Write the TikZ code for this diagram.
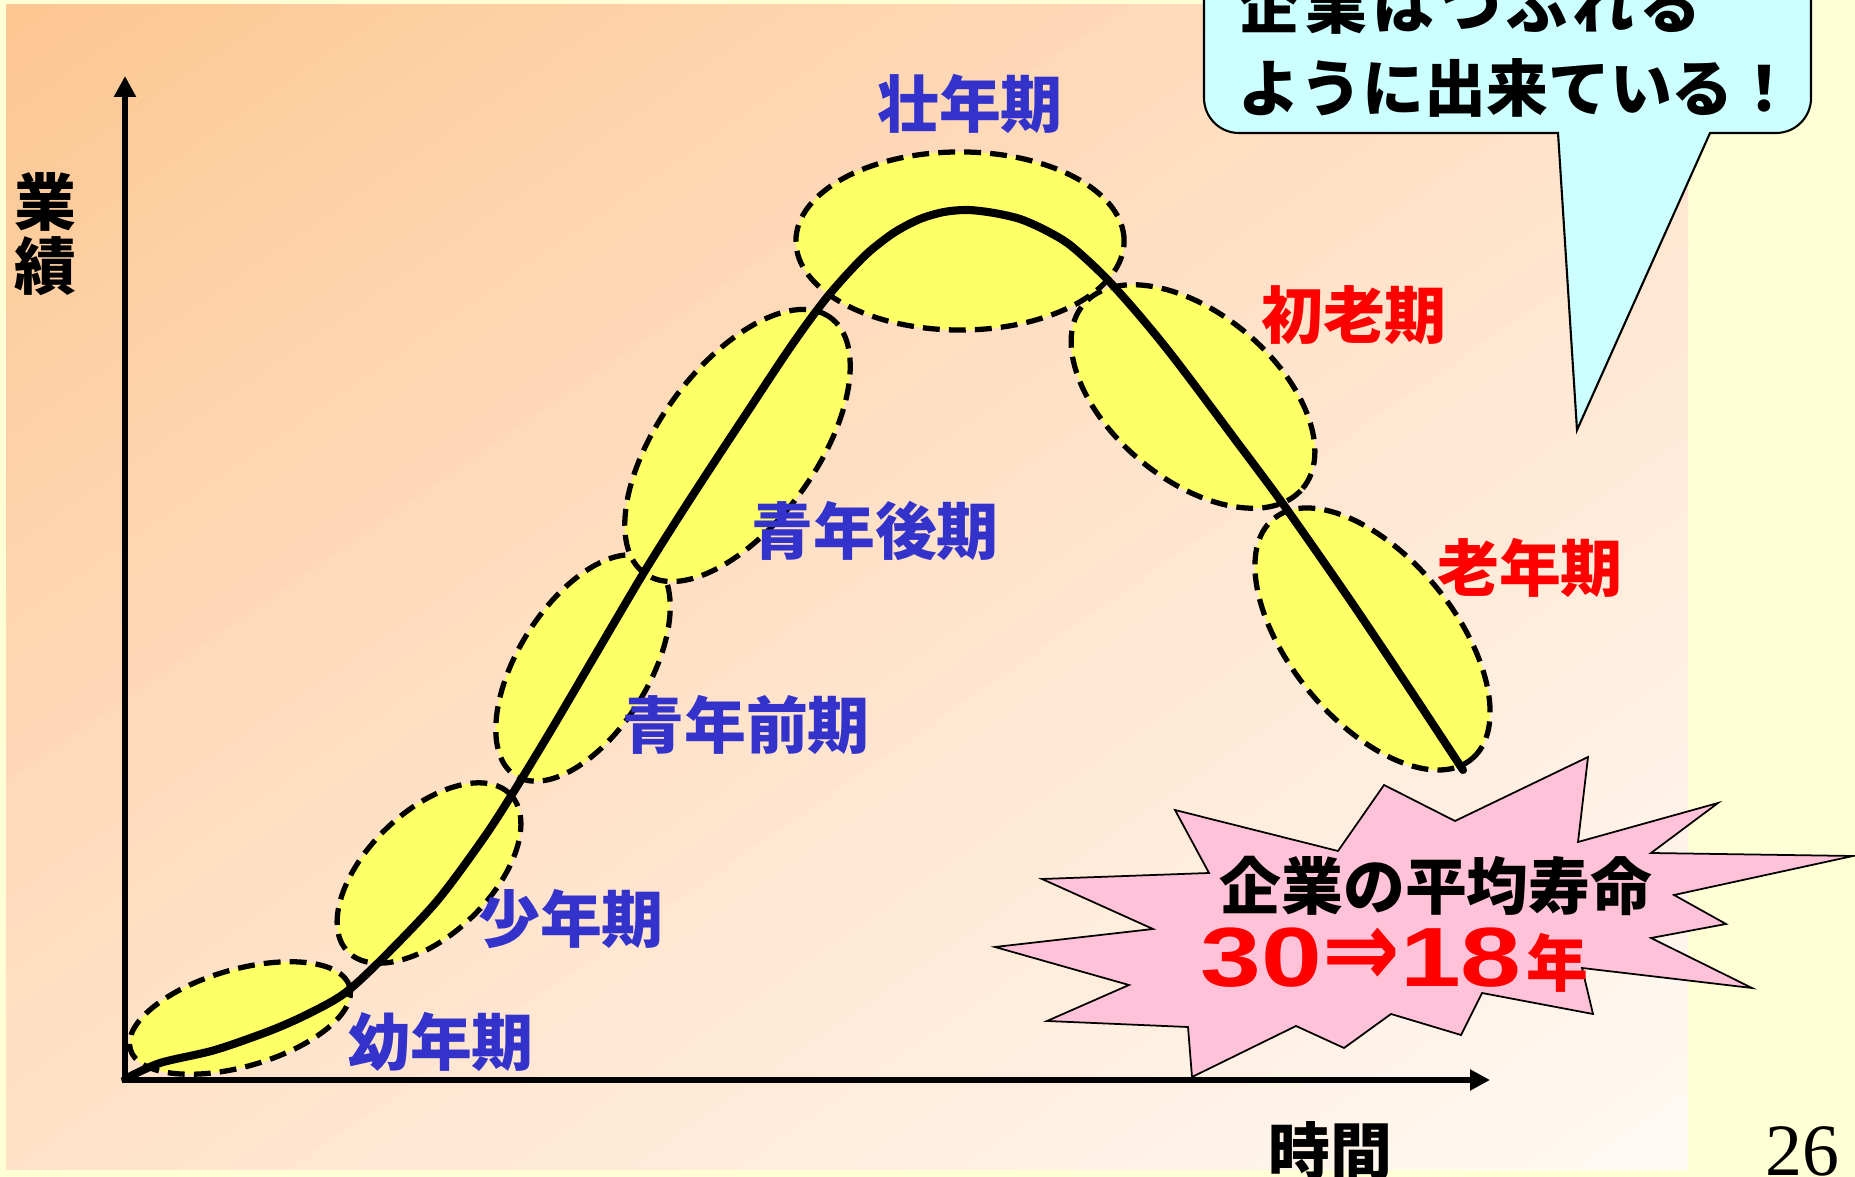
\documentclass[tikz,border=0pt]{standalone}
\usepackage{fontspec}
\usepackage{graphicx}
\usetikzlibrary{arrows.meta}
\newfontfamily\jp{Noto Sans CJK JP}
\newfontfamily\lsans{Liberation Sans}
\newfontfamily\lserif{Liberation Serif}
\newfontfamily\dejavu{DejaVu Sans}
\definecolor{pagebg}{RGB}{255,255,214}
\definecolor{bgA}{RGB}{253,199,146}
\definecolor{bgM}{RGB}{255,226,201}
\definecolor{bgB}{RGB}{255,250,245}
\definecolor{elly}{RGB}{255,255,102}
\definecolor{lblue}{RGB}{51,51,204}
\definecolor{callc}{RGB}{204,255,255}
\definecolor{burst}{RGB}{255,194,216}
\tikzset{
  ell/.style={fill=elly, draw=black, line width=1.5pt, dash pattern=on 4.8pt off 2.6pt},
  axisline/.style={line width=1.9pt, {Triangle[length=0.21cm,width=0.21cm]}-{Triangle[length=0.2cm,width=0.2cm]}},
  lifecurve/.style={line width=2.3pt, line join=round, line cap=round},
  lbl/.style={font=\jp\bfseries\fontsize{17.6pt}{18.2pt}\selectfont, inner sep=0pt},
  blbl/.style={lbl, text=lblue},
  rlbl/.style={lbl, text=red},
  klbl/.style={lbl, text=black},
}
% band of the diagonal gradient: #1 = t0, #2 = t1 (t = X/W + Y/H)
\newcommand{\gradband}[2]{%
  (6+#1*1682+1682, -5+1164) -- (6+#1*1682-3*1682, -5-3*1164) --
  (6+#2*1682-3*1682, -5-3*1164) -- (6+#2*1682+1682, -5+1164) -- cycle}
\begin{document}
\begin{tikzpicture}[x=0.01cm, y=0.01cm]
\useasboundingbox (0,0) rectangle (1855,-1177);
\clip (0,0) rectangle (1855,-1177);
% background
\fill[pagebg] (0,0) rectangle (1855,-1177);
\begin{scope}
  \clip (6,-5) rectangle (1688,-1169);
  \foreach \i in {0,...,29} {
    \pgfmathsetmacro\ta{\i/30}
    \pgfmathsetmacro\tb{(\i+1.4)/30}
    \pgfmathsetmacro\pc{100*(\i+0.5)/30}
    \fill[bgM!\pc!bgA] ({6+\ta*1682+1682}, {-5+1164}) -- ({6+\ta*1682-3*1682}, {-5-3*1164}) -- ({6+\tb*1682-3*1682}, {-5-3*1164}) -- ({6+\tb*1682+1682}, {-5+1164}) -- cycle;
  }
  \foreach \i in {0,...,29} {
    \pgfmathsetmacro\ta{1+\i/30}
    \pgfmathsetmacro\tb{1+(\i+1.4)/30}
    \pgfmathsetmacro\pc{100*(\i+0.5)/30}
    \fill[bgB!\pc!bgM] ({6+\ta*1682+1682}, {-5+1164}) -- ({6+\ta*1682-3*1682}, {-5-3*1164}) -- ({6+\tb*1682-3*1682}, {-5-3*1164}) -- ({6+\tb*1682+1682}, {-5+1164}) -- cycle;
  }
\end{scope}
% axes
\coordinate (O) at (125,-1080);
\coordinate (ytip) at (125,-76);
\coordinate (xtip) at (1490,-1080);
\draw[axisline] (ytip) -- (O) -- (xtip);
% stage ellipses
\draw[ell] (240,-1018) circle [x radius=1.14cm, y radius=0.485cm, rotate=16];
\draw[ell] (429,-873) circle [x radius=1.13cm, y radius=0.615cm, rotate=44];
\draw[ell] (583,-668) circle [x radius=1.27cm, y radius=0.653cm, rotate=58];
\draw[ell] (737.5,-445.5) circle [x radius=1.58cm, y radius=0.788cm, rotate=54];
\draw[ell] (960,-241) circle [x radius=1.64cm, y radius=0.89cm, rotate=0];
\draw[ell] (1193,-396.5) circle [x radius=1.43cm, y radius=0.828cm, rotate=-40];
\draw[ell] (1372.5,-639) circle [x radius=1.556cm, y radius=0.821cm, rotate=-50.5];
% life curve
\draw[lifecurve] plot[smooth, tension=0.5] coordinates {(125,-1079) (160,-1063) (215,-1050) (272,-1030) (310,-1013) (345,-993) (383,-958) (437,-901) (483,-839) (511,-796) (550,-732) (597,-652) (643,-574) (680,-515) (717,-458) (750,-408) (783,-358) (806,-325) (828,-296) (850,-271) (870,-251) (895,-232) (920,-219) (944,-212) (968,-210) (994,-213) (1020,-219) (1045,-230) (1070,-245) (1103,-275) (1133,-308) (1163,-344) (1190,-379) (1237,-442) (1283,-504) (1350,-600) (1407,-685) (1463,-770)};
% stage labels
\node[blbl] (l5) at (970,-104) {壮年期};
\node[rlbl] (l6) at (1354,-315) {初老期};
\node[blbl] (l4) at (875,-531) {青年後期};
\node[rlbl] (l7) at (1530,-568) {老年期};
\node[blbl] (l3) at (746,-725) {青年前期};
\node[blbl] (l2) at (571,-919) {少年期};
\node[blbl] (l1) at (441,-1042) {幼年期};
% axis labels
\node[klbl, align=center] (ylab) at (45,-234) {業\\績};
\node[klbl] (xlab) at (1330,-1151) {時間};
\node[inner sep=0pt, anchor=base, font=\lserif\fontsize{21pt}{22pt}\selectfont] (pg) at (1802,-1175) {26};
% starburst
\draw[fill=burst, draw=black, line width=0.5pt, line join=miter]
  (1588,-757) -- (1578,-842) -- (1718,-803) -- (1651,-853) -- (1853,-856) -- (1674,-895) -- (1726,-924) -- (1651,-938) -- (1752,-988) -- (1582,-968) -- (1593,-1014) -- (1482,-993) -- (1461,-1035) -- (1391,-1014) -- (1344,-1048) -- (1296,-1026) -- (1192,-1077) -- (1188,-1027) -- (1047,-1021) -- (1129,-985) -- (995,-947) -- (1153,-929) -- (1042,-879) -- (1209,-873) -- (1175,-810) -- (1338,-851) -- (1384,-785) -- (1455,-821) -- cycle;
\node[klbl] (life) at (1436,-886) {企業の平均寿命};
\node[inner sep=0pt, anchor=base west, text=red] (yrs) at (1200,-987)
  {{\lsans\bfseries\fontsize{23.9pt}{24pt}\selectfont\scalebox{1.3}[1]{30}}{\dejavu\bfseries\fontsize{22pt}{22pt}\selectfont\smash{\scalebox{1.2}[1.4]{⇒}}}{\lsans\bfseries\fontsize{23.9pt}{24pt}\selectfont\scalebox{1.3}[1]{18}}\hspace{0.05cm}{\jp\bfseries\fontsize{17.6pt}{18pt}\selectfont 年}};
% callout
\draw[fill=callc, draw=black, line width=0.6pt, line join=miter]
  (1558,-133) -- (1577,-430) -- (1710,-133) -- (1776,-133)
  arc[start angle=-90, end angle=0, radius=0.35cm] -- (1811,60) -- (1204,60) -- (1204,-98)
  arc[start angle=180, end angle=270, radius=0.35cm] -- cycle;
\node[klbl, anchor=base west] (c1) at (1238,-29) {\addfontfeature{LetterSpace=8}企業はつぶれる};
\node[klbl, anchor=base west] (c2) at (1238,-112) {ように出来ている！};
\end{tikzpicture}
\end{document}
